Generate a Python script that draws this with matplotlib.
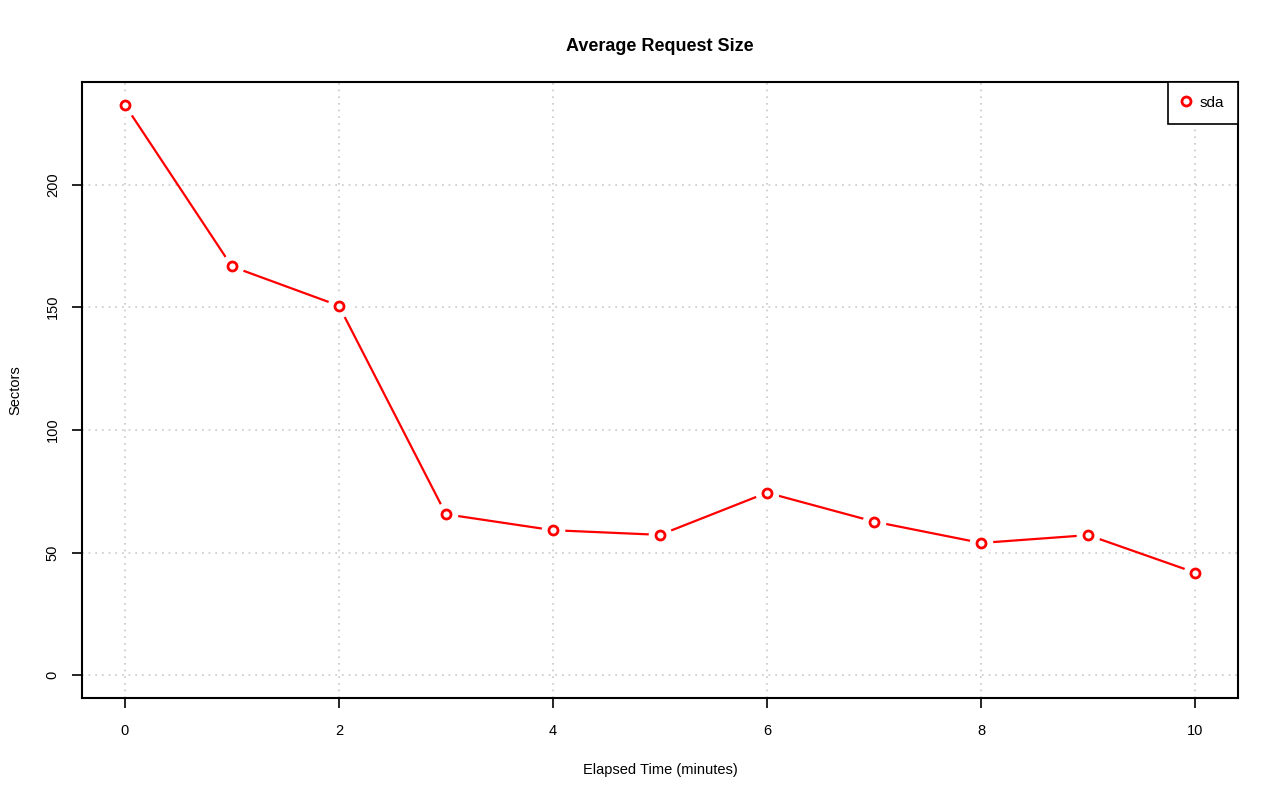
import matplotlib
matplotlib.use('Agg')
import matplotlib.pyplot as plt
import numpy as np

plt.rcParams['font.family'] = ['Liberation Sans', 'DejaVu Sans']

# Data
minutes = [0, 1, 2, 3, 4, 5, 6, 7, 8, 9, 10]
sectors = [232.5, 166.6, 150.6, 65.6, 59.1, 57.2, 74.4, 62.6, 53.9, 57.1, 41.8]
series_name = 'sda'

fig = plt.figure(figsize=(12.8, 8.01), dpi=100)
ax = fig.add_axes([0.0641, 0.1286, 0.9031, 0.769])

# R style type="b": line with gaps around the points
ax.plot(minutes, sectors, color='red', lw=1.6, zorder=3)
ax.plot(minutes, sectors, ls='none', marker='o', ms=16, mfc='white', mec='white', zorder=4)
ax.plot(minutes, sectors, ls='none', marker='o', ms=6.5, mfc='white', mec='red', mew=2, zorder=5)
legend_handle, = ax.plot([], [], ls='none', marker='o', ms=6.5, mfc='white', mec='red', mew=2)

ax.set_xlim(-0.4, 10.4)
ax.set_ylim(-9.3, 241.8)
ax.set_xticks(np.arange(0, 11, 2))
ax.set_yticks(np.arange(0, 201, 50))
ax.set_yticklabels([str(v) for v in range(0, 201, 50)], rotation=90, va='center')

ax.grid(True, color='#c8c8c8', linestyle=(0, (1, 3)), linewidth=1.2)
ax.set_axisbelow(True)

for s in ax.spines.values():
    s.set_linewidth(1.5)
ax.tick_params(axis='both', length=7, width=1.2, labelsize=10.5)
ax.tick_params(axis='x', pad=12)
ax.tick_params(axis='y', pad=9)

ax.set_title('Average Request Size', fontsize=13, fontweight='bold', pad=22)
ax.set_xlabel('Elapsed Time (minutes)', fontsize=10.5, labelpad=18)
ax.set_ylabel('Sectors', fontsize=10.5, labelpad=17)

leg = ax.legend([legend_handle], [series_name], loc='upper right', borderaxespad=0,
                fancybox=False, framealpha=1, edgecolor='black', fontsize=11,
                handlelength=0.6, handletextpad=0.6, borderpad=0.9)
leg.get_frame().set_linewidth(1.2)

fig.savefig('out.png', dpi=100)
